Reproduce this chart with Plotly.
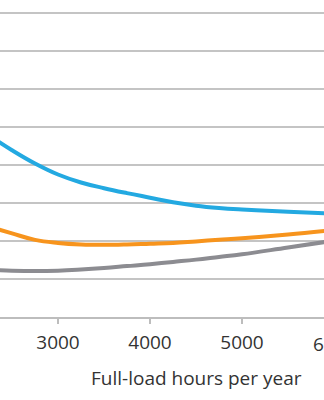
import plotly.graph_objects as go

hours = [2300, 2500, 2750, 3000, 3250, 3500, 3750, 4000, 4250, 4500, 4750, 5000, 5500, 6000]
blue = [4.70, 4.39, 4.04, 3.75, 3.54, 3.39, 3.26, 3.14, 3.02, 2.93, 2.87, 2.83, 2.77, 2.72]
orange = [2.34, 2.20, 2.03, 1.95, 1.91, 1.90, 1.91, 1.93, 1.95, 1.99, 2.03, 2.07, 2.17, 2.29]
gray = [1.24, 1.22, 1.21, 1.22, 1.25, 1.29, 1.34, 1.39, 1.45, 1.51, 1.58, 1.65, 1.83, 2.01]

x_ticks = [3000, 4000, 5000]
x_title = "Full-load hours per year"

W, H = 324, 400
plot_bottom = 317
x0 = 3000 - 58 * 1000 / 92
x1 = 3000 + (W - 58) * 1000 / 92
y_top = plot_bottom / 38

font = dict(family="Open Sans", size=19, color="#333333")

fig = go.Figure()
for vals, col in [(gray, "#8c8c91"), (orange, "#f7941d"), (blue, "#23a9e1")]:
    fig.add_trace(go.Scatter(x=hours, y=vals, mode="lines",
                             line=dict(color=col, width=4, shape="spline", smoothing=1.2),
                             showlegend=False, hoverinfo="skip"))

fig.update_layout(
    width=W, height=H,
    margin=dict(l=0, r=0, t=0, b=H - plot_bottom),
    paper_bgcolor="white", plot_bgcolor="white",
    font=font,
    xaxis=dict(range=[x0, x1], tickvals=x_ticks, ticktext=[str(v) for v in x_ticks],
               showgrid=False, zeroline=False, showline=True, linecolor="#bdbdbd", linewidth=2,
               ticks="outside", ticklen=5, tickwidth=2, tickcolor="#bdbdbd",
               tickfont=font, ticklabelstandoff=2),
    yaxis=dict(range=[0, y_top], dtick=1, showgrid=True, gridcolor="#c4c4c4", gridwidth=2,
               zeroline=False, showticklabels=False, showline=False),
    annotations=[
        dict(text=x_title, x=4500, xref="x", y=-(378 - plot_bottom) / plot_bottom, yref="paper",
             xanchor="center", yanchor="middle", showarrow=False, font=font),
        dict(text="6000", x=334 / W, xref="paper", y=-(343.5 - plot_bottom) / plot_bottom, yref="paper",
             xanchor="center", yanchor="middle", showarrow=False, font=font),
    ],
)

fig.write_html("out.html")
